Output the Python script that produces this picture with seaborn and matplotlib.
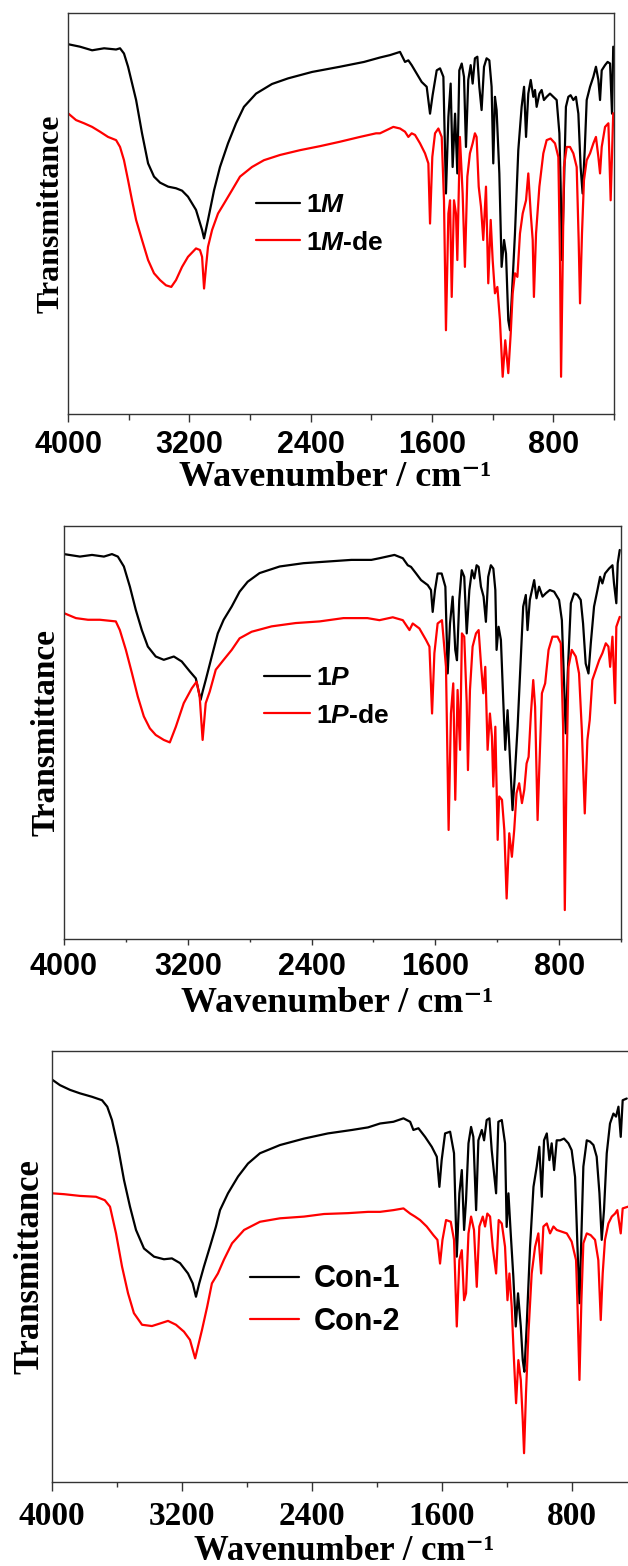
import numpy as np
import pandas as pd
import matplotlib
matplotlib.use("Agg")
import matplotlib.pyplot as plt
import seaborn as sns

# ---------------- data (wavenumber cm-1, transmittance a.u.) ----------------
pts_1M = [(3997,92.2),(3921,91.6),(3841,90.7),(3762,91.2),(3683,90.9),(3657,91.2),(3631,89.9),(3604,86.6),(3551,78.3),(3512,70.0),(3472,62.5),(3433,59.2),(3393,57.7),(3340,56.7),(3288,56.3),(3248,55.7),(3209,54.2),(3156,50.9),(3116,45.9),(3103,43.8),(3077,48.4),(3037,55.8),(2998,61.6),(2945,67.5),(2892,72.5),(2840,76.6),(2760,79.9),(2655,82.3),(2549,83.7),(2391,85.3),(2207,86.6),(2048,87.8),(1943,88.9),(1877,89.5),(1811,90.3),(1778,87.8),(1756,88.2),(1734,87.0),(1701,84.9),(1668,82.8),(1635,81.6),(1613,74.9),(1596,79.5),(1569,85.7),(1547,86.2),(1525,84.1),(1508,55.0),(1492,74.1),(1477,82.4),(1464,61.6),(1448,74.9),(1433,60.0),(1420,85.7),(1404,87.4),(1389,84.1),(1376,66.6),(1361,83.3),(1345,87.0),(1332,82.4),(1317,88.7),(1301,89.1),(1288,81.6),(1273,75.8),(1257,86.6),(1240,88.7),(1222,88.2),(1207,81.6),(1196,62.5),(1185,79.1),(1174,75.8),(1156,60.0),(1141,36.7),(1125,43.4),(1112,40.0),(1097,23.4),(1086,20.9),(1075,28.4),(1053,45.0),(1031,65.8),(1009,76.6),(993,81.6),(980,69.1),(965,79.9),(949,83.3),(932,79.1),(921,80.8),(910,76.6),(892,79.9),(877,80.8),(862,78.3),(844,79.1),(822,79.9),(800,79.1),(778,78.3),(760,70.0),(752,57.5),(743,38.4),(730,56.7),(717,76.6),(701,79.1),(686,79.5),(668,78.3),(651,79.1),(635,74.9),(620,61.6),(607,55.0),(593,65.8),(580,78.3),(558,81.6),(536,84.1),(519,86.6),(503,83.3),(492,78.3),(481,85.7),(459,87.0),(442,87.8),(426,87.4),(413,74.9),(405,91.6)]

pts_1Mde = [(3997,74.9),(3947,73.3),(3894,72.5),(3841,71.6),(3789,70.4),(3736,69.1),(3683,68.3),(3657,66.6),(3631,63.3),(3604,58.3),(3578,53.3),(3551,48.4),(3512,43.4),(3472,38.4),(3433,35.1),(3393,33.4),(3354,32.1),(3319,31.7),(3288,33.4),(3248,36.7),(3209,39.2),(3156,41.3),(3130,40.9),(3116,39.2),(3103,31.3),(3090,36.7),(3077,41.7),(3050,45.9),(3011,50.0),(2971,52.5),(2919,55.8),(2866,59.2),(2787,61.6),(2708,63.3),(2602,64.6),(2470,65.8),(2338,66.8),(2207,67.9),(2075,69.1),(1969,70.0),(1943,70.0),(1855,71.6),(1811,71.2),(1778,70.4),(1756,69.1),(1734,70.0),(1712,69.6),(1679,67.5),(1646,65.0),(1624,62.5),(1613,47.5),(1598,64.1),(1580,70.0),(1558,71.2),(1536,69.1),(1521,53.3),(1508,20.9),(1492,50.0),(1481,53.3),(1470,29.2),(1455,53.3),(1442,50.0),(1433,38.4),(1416,69.1),(1398,55.0),(1383,36.7),(1367,59.2),(1350,65.0),(1332,67.5),(1317,70.0),(1306,69.1),(1292,56.7),(1277,51.7),(1262,43.4),(1244,56.7),(1229,32.6),(1213,48.4),(1200,38.4),(1185,30.1),(1169,31.7),(1152,23.4),(1134,9.3),(1117,18.4),(1097,10.2),(1081,20.1),(1068,30.1),(1053,35.1),(1037,34.2),(1020,45.0),(1002,50.0),(980,53.3),(965,60.0),(949,50.0),(936,43.4),(928,29.2),(914,45.0),(892,56.7),(866,65.0),(844,68.3),(818,68.7),(789,67.5),(767,64.1),(756,38.4),(749,9.3),(738,38.4),(730,61.6),(712,66.6),(690,66.6),(668,65.0),(646,61.6),(633,43.4),(624,27.6),(611,45.0),(598,58.3),(580,63.3),(558,65.0),(536,67.5),(519,69.1),(503,64.1),(492,60.0),(481,66.6),(459,71.6),(437,72.5),(422,53.3),(405,75.0)]

pts_1P = [(4000,93.2),(3897,92.6),(3819,93.0),(3742,92.6),(3690,93.2),(3652,92.6),(3613,90.2),(3574,85.3),(3536,79.7),(3497,74.8),(3458,70.8),(3407,68.4),(3355,67.6),(3290,68.4),(3239,67.2),(3187,64.8),(3148,63.1),(3117,57.9),(3104,59.9),(3084,62.7),(3045,68.4),(3006,74.0),(2968,77.3),(2916,80.5),(2865,84.1),(2813,86.5),(2736,88.6),(2606,90.2),(2452,91.0),(2297,91.4),(2142,91.8),(2013,91.8),(1961,92.2),(1864,93.0),(1810,92.2),(1778,90.5),(1757,90.1),(1724,88.5),(1692,86.9),(1649,85.7),(1628,84.5),(1617,79.2),(1602,84.5),(1585,88.5),(1559,88.5),(1535,85.3),(1520,64.3),(1505,76.4),(1488,82.9),(1471,70.0),(1460,67.5),(1445,82.1),(1430,89.3),(1413,87.7),(1397,74.0),(1380,84.5),(1363,89.3),(1348,87.3),(1333,90.5),(1320,90.1),(1305,85.3),(1288,82.9),(1273,76.8),(1258,87.7),(1241,90.5),(1225,89.7),(1212,84.5),(1204,70.0),(1191,75.6),(1176,72.4),(1161,57.9),(1148,45.8),(1133,55.4),(1118,44.1),(1101,31.2),(1088,38.5),(1068,51.4),(1047,68.4),(1032,80.5),(1015,83.3),(1004,74.8),(989,82.1),(961,86.9),(946,82.5),(929,85.3),(907,82.9),(886,83.7),(860,84.5),(832,84.1),(800,82.1),(782,77.2),(767,61.1),(757,49.8),(744,64.3),(724,81.3),(703,83.7),(681,83.3),(660,82.1),(645,76.4),(628,66.7),(610,64.3),(595,71.6),(574,80.5),(552,84.5),(535,87.7),(520,86.1),(503,88.5),(477,89.7),(455,90.5),(445,86.1),(430,81.3),(421,91.0),(408,94.2)]

pts_1Pde = [(4000,78.9),(3923,77.7),(3845,77.3),(3768,77.3),(3665,76.9),(3639,74.8),(3600,70.0),(3561,64.4),(3523,58.7),(3484,53.9),(3445,51.0),(3407,49.4),(3355,48.2),(3316,47.6),(3277,51.4),(3226,57.1),(3174,60.7),(3143,62.3),(3123,58.7),(3104,48.2),(3084,57.1),(3058,59.9),(3019,65.2),(2968,67.6),(2916,70.0),(2865,72.8),(2787,74.4),(2658,75.7),(2503,76.5),(2348,76.9),(2194,77.7),(2039,77.7),(1961,77.2),(1875,77.9),(1810,77.2),(1767,74.8),(1746,76.4),(1703,75.2),(1660,72.4),(1638,70.8),(1621,54.6),(1606,69.2),(1585,76.4),(1557,77.2),(1531,65.9),(1514,26.4),(1499,54.6),(1484,61.9),(1471,33.7),(1456,60.3),(1440,45.8),(1428,74.0),(1413,73.2),(1397,57.1),(1389,40.9),(1376,60.3),(1359,70.8),(1337,74.0),(1320,74.8),(1305,66.7),(1290,59.5),(1277,65.9),(1262,45.8),(1247,54.6),(1234,49.0),(1225,36.9),(1212,51.4),(1197,24.0),(1187,34.5),(1169,33.7),(1154,26.4),(1139,9.8),(1122,25.6),(1105,19.9),(1090,26.4),(1075,35.3),(1058,37.7),(1040,32.9),(1025,36.1),(1010,42.5),(997,44.1),(982,54.6),(967,62.7),(955,56.2),(939,28.8),(929,40.1),(911,59.5),(890,61.9),(868,70.0),(843,73.2),(810,73.2),(789,71.6),(774,51.4),(763,7.0),(752,40.1),(739,65.9),(718,70.0),(692,68.4),(671,64.3),(653,50.6),(634,30.4),(617,48.2),(602,53.0),(585,62.7),(563,65.1),(541,67.5),(520,69.2),(498,71.6),(481,70.8),(470,65.9),(455,73.2),(438,57.1),(430,75.6),(408,78.0)]

pts_Con1 = [(4000,93.4),(3951,92.1),(3889,91.0),(3828,90.2),(3754,89.4),(3692,88.6),(3660,87.1),(3631,84.0),(3594,77.8),(3557,70.1),(3520,63.9),(3483,58.5),(3434,54.2),(3372,52.3),(3311,51.7),(3262,51.9),(3212,50.8),(3163,48.4),(3134,46.1),(3114,43.0),(3094,46.1),(3065,50.0),(3028,54.6),(2991,59.3),(2966,63.1),(2917,67.0),(2855,70.9),(2794,73.9),(2720,76.3),(2597,78.2),(2449,79.7),(2302,80.9),(2154,81.7),(2055,82.3),(1981,83.2),(1899,83.6),(1837,84.4),(1796,83.6),(1776,81.7),(1745,82.1),(1704,80.1),(1663,77.8),(1632,75.5),(1616,68.5),(1602,74.7),(1581,80.9),(1550,81.3),(1526,76.3),(1509,52.3),(1493,67.0),(1478,72.4),(1464,58.5),(1452,65.4),(1437,78.6),(1421,82.4),(1407,80.1),(1390,63.1),(1376,79.3),(1355,81.7),(1341,79.3),(1325,84.0),(1308,84.4),(1294,77.0),(1267,67.0),(1253,83.6),(1232,84.0),(1212,78.6),(1202,59.2),(1191,67.0),(1177,57.7),(1161,47.7),(1146,36.1),(1132,43.8),(1115,36.1),(1103,28.3),(1093,25.6),(1079,36.1),(1058,54.6),(1037,68.5),(1017,73.2),(1001,77.8),(986,66.2),(972,79.3),(955,80.9),(939,74.7),(925,78.6),(910,72.4),(894,79.3),(873,79.3),(849,79.7),(822,78.6),(802,77.0),(781,70.8),(767,55.4),(754,41.5),(744,54.6),(730,73.2),(709,79.3),(689,79.0),(668,78.2),(648,75.5),(631,67.0),(617,56.2),(603,63.1),(586,76.3),(566,83.2),(545,85.5),(529,84.8),(514,87.1),(500,80.1),(488,88.6),(463,89.0)]

pts_Con2 = [(4000,67.0),(3926,66.8),(3828,66.4),(3729,66.2),(3675,65.4),(3643,63.9),(3606,57.7),(3569,50.0),(3532,43.8),(3496,39.2),(3446,36.5),(3385,36.2),(3335,36.8),(3286,37.4),(3237,36.5),(3188,34.9),(3151,33.0),(3119,28.7),(3102,31.4),(3077,35.3),(3045,40.7),(3016,46.1),(2979,48.4),(2942,51.6),(2892,55.4),(2818,58.5),(2720,60.4),(2597,61.2),(2449,61.6),(2326,62.2),(2178,62.4),(2055,62.7),(1981,62.7),(1899,63.1),(1837,63.5),(1796,62.3),(1766,61.6),(1735,60.8),(1694,59.3),(1653,57.3),(1628,56.2),(1612,50.7),(1597,56.2),(1575,60.8),(1546,60.4),(1526,56.2),(1509,36.1),(1493,51.5),(1478,53.8),(1464,42.2),(1452,43.8),(1437,57.7),(1421,61.6),(1403,58.5),(1386,45.3),(1370,59.3),(1349,61.6),(1335,59.3),(1321,62.3),(1304,61.6),(1288,54.6),(1267,48.4),(1251,60.8),(1232,60.0),(1212,54.6),(1197,42.2),(1185,48.4),(1171,40.7),(1157,28.3),(1144,18.3),(1130,28.3),(1115,23.7),(1103,14.4),(1095,6.7),(1083,20.6),(1068,34.5),(1048,48.4),(1027,54.6),(1007,57.7),(990,48.4),(976,59.3),(955,60.0),(935,57.7),(914,59.3),(894,58.5),(863,58.1),(832,57.7),(802,55.8),(775,51.5),(767,42.2),(754,23.7),(742,42.2),(730,55.4),(709,57.7),(685,57.3),(658,56.2),(638,51.5),(623,37.6),(611,48.4),(597,56.2),(576,60.0),(555,61.6),(535,62.3),(521,63.1),(500,57.7),(488,63.5),(455,63.9)]

major_ticks = [4000, 3200, 2400, 1600, 800]
minor_ticks = [3600, 2800, 2000, 1200, 400]
tick_labels = ["4000", "3200", "2400", "1600", "800"]

# ---------------- style ----------------
sns.set_theme(style="white")
SANS = ["Liberation Sans", "DejaVu Sans"]
SERIF = ["Liberation Serif", "DejaVu Serif"]
plt.rcParams.update({
    "font.family": SANS,
    "text.color": "black",
    "axes.labelcolor": "black",
    "mathtext.fontset": "custom",
    "mathtext.rm": "Liberation Sans:bold",
    "mathtext.it": "Liberation Sans:italic:bold",
    "mathtext.bf": "Liberation Sans:bold",
})

fig = plt.figure(figsize=(6.28, 15.66), dpi=100)

panels = [
    dict(rect=[0.1083, 0.7356, 0.8694, 0.2561],
         series=[("1$\\mathit{M}$", pts_1M, "black"), ("1$\\mathit{M}$-de", pts_1Mde, "red")],
         tickfont=SANS, ticksize=22, ticklen=(5.8, 4.0), tickpad=6,
         ylab_x=-0.004, ylab_size=23,
         xlab=(0.49, -0.180, 26),
         leg=dict(anchor=(0.344, 0.474), size=19, hl=1.67, htp=0.23, ls=0.5)),
    dict(rect=[0.1019, 0.4004, 0.8869, 0.2637],
         series=[("1$\\mathit{P}$", pts_1P, "black"), ("1$\\mathit{P}$-de", pts_1Pde, "red")],
         tickfont=SANS, ticksize=22, ticklen=(4.5, 2.5), tickpad=5,
         ylab_x=-0.004, ylab_size=24,
         xlab=(0.49, -0.178, 26),
         leg=dict(anchor=(0.359, 0.586), size=19, hl=1.74, htp=0.23, ls=0.5)),
    dict(rect=[0.0828, 0.0536, 0.9315, 0.2752],
         series=[("Con-1", pts_Con1, "black"), ("Con-2", pts_Con2, "red")],
         tickfont=SERIF, ticksize=24, ticklen=(6.5, 3.6), tickpad=7,
         ylab_x=-0.009, ylab_size=25,
         xlab=(0.499, -0.180, 25),
         leg=dict(anchor=(0.338, 0.421), size=22, hl=1.6, htp=0.49, ls=0.42)),
]

for p in panels:
    ax = fig.add_axes(p["rect"])
    frames = []
    names = []
    pal = {}
    for name, pts, col in p["series"]:
        arr = np.array(pts, dtype=float)
        frames.append(pd.DataFrame({"wn": arr[:, 0], "T": arr[:, 1], "sample": name}))
        names.append(name)
        pal[name] = col
    df = pd.concat(frames, ignore_index=True)
    sns.lineplot(data=df, x="wn", y="T", hue="sample", hue_order=names, palette=pal,
                 estimator=None, sort=False, linewidth=1.6, legend=False, ax=ax)

    ax.set_xlim(4000, 400)
    ax.set_ylim(0, 100)
    ax.set_xlabel("")
    ax.set_ylabel("Transmittance", fontfamily=SERIF, fontweight="bold",
                  fontsize=p["ylab_size"], color="black")
    ax.yaxis.set_label_coords(p["ylab_x"], 0.5)
    ax.set_yticks([])
    ax.set_xticks(major_ticks, labels=tick_labels, fontfamily=p["tickfont"],
                  fontweight="bold", fontsize=p["ticksize"], color="black")
    ax.set_xticks(minor_ticks, minor=True)
    ax.tick_params(axis="x", which="major", direction="out", bottom=True,
                   length=p["ticklen"][0], width=1.0, color="#333333", pad=p["tickpad"])
    ax.tick_params(axis="x", which="minor", direction="out", bottom=True,
                   length=p["ticklen"][1], width=1.0, color="#333333")
    ax.tick_params(axis="y", left=False, labelleft=False)
    for s in ax.spines.values():
        s.set_visible(True)
        s.set_color("#333333")
        s.set_linewidth(1.0)

    xl = p["xlab"]
    ax.text(xl[0], xl[1], "Wavenumber / cm\u207b\u00b9", transform=ax.transAxes,
            ha="center", va="baseline", fontfamily=SERIF, fontweight="bold",
            fontsize=xl[2], color="black")

    lg = p["leg"]
    handles = ax.get_lines()[:2]
    ax.legend(handles, names, loc="center left", bbox_to_anchor=lg["anchor"],
              frameon=False, borderpad=0, borderaxespad=0,
              handlelength=lg["hl"], handletextpad=lg["htp"], labelspacing=lg["ls"],
              labelcolor="black",
              prop={"family": SANS, "weight": "bold", "size": lg["size"]})

fig.savefig("out.png", dpi=100)
